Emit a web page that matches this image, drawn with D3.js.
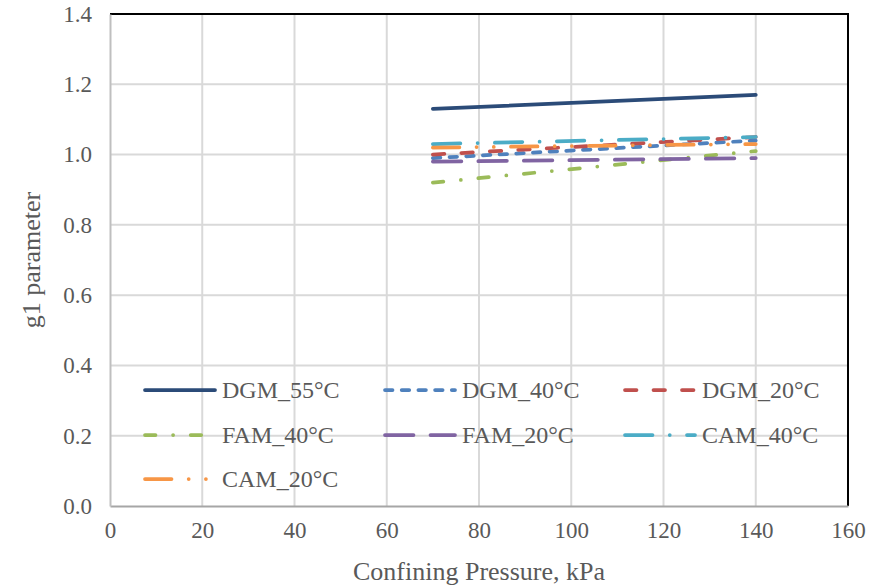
<!DOCTYPE html>
<html>
<head>
<meta charset="utf-8">
<script src="https://cdn.jsdelivr.net/npm/d3@7/dist/d3.min.js"></script>
<style>
  html, body { margin: 0; padding: 0; background: #fff; }
  svg { display: block; }
  svg text { font-family: "Liberation Serif", "Times New Roman", serif !important; fill: #595959; }
</style>
</head>
<body>
<svg id="chart" width="869" height="587"></svg>
<script>
// Confining pressures (kPa) at which g1 was evaluated
const pressures = [70, 140];

// g1 parameter per mixture / temperature
const seriesNames = ["DGM_55°C", "DGM_40°C", "DGM_20°C", "FAM_40°C", "FAM_20°C", "CAM_40°C", "CAM_20°C"];
const dgm55 = [1.13, 1.17];
const dgm40 = [0.99, 1.04];
const dgm20 = [1.00, 1.05];
const fam40 = [0.92, 1.01];
const fam20 = [0.98, 0.99];
const cam40 = [1.03, 1.05];
const cam20 = [1.02, 1.03];

const xTicks = [0, 20, 40, 60, 80, 100, 120, 140, 160];
const yTicks = [0.0, 0.2, 0.4, 0.6, 0.8, 1.0, 1.2, 1.4];

const colors = ["#2b4b78", "#4f81bd", "#c0504d", "#9bbb59", "#8064a2", "#4bacc6", "#f79646"];
const dashes = [
  null,
  "7.5,9.2",
  "11.5,17",
  "10.5,17.6,0,17.6",
  "28.5,17",
  "27.5,17.25,0,17.25",
  "26.5,17.2,0,17.2,0,17.2"
];

const series = [dgm55, dgm40, dgm20, fam40, fam20, cam40, cam20].map((vals, i) => ({
  name: seriesNames[i],
  color: colors[i],
  dash: dashes[i],
  points: vals.map((v, j) => ({ x: pressures[j], y: v }))
}));

const svg = d3.select("#chart");
const margin = { left: 110, right: 21, top: 14, bottom: 81 };
const W = 869, H = 587;

const x = d3.scaleLinear().domain([0, 160]).range([margin.left, W - margin.right]);
const y = d3.scaleLinear().domain([0, 1.4]).range([H - margin.bottom, margin.top]);

// Gridlines
svg.append("g")
  .selectAll("line")
  .data(yTicks.slice(1))
  .join("line")
  .attr("x1", x(0)).attr("x2", x(160))
  .attr("y1", d => y(d)).attr("y2", d => y(d))
  .attr("stroke", "#d9d9d9").attr("stroke-width", 2);

svg.append("g")
  .selectAll("line")
  .data(xTicks.slice(1))
  .join("line")
  .attr("x1", d => x(d)).attr("x2", d => x(d))
  .attr("y1", y(0)).attr("y2", y(1.4))
  .attr("stroke", "#d9d9d9").attr("stroke-width", 2);

// Frame: black top and right edges
svg.append("path")
  .attr("d", `M${x(0)},${y(1.4)} H${x(160)} V${y(0)}`)
  .attr("fill", "none").attr("stroke", "#000").attr("stroke-width", 2);

// Axes
const xAxis = svg.append("g")
  .attr("transform", `translate(0,${y(0)})`)
  .call(d3.axisBottom(x).tickValues(xTicks).tickSize(0).tickPadding(16).tickFormat(d3.format("d")))
  .attr("font-family", "Liberation Serif")
  .attr("font-size", 23);
xAxis.select(".domain").attr("stroke", "#a6a6a6").attr("stroke-width", 2);
xAxis.selectAll(".tick text").attr("fill", "#595959");

const yAxis = svg.append("g")
  .attr("transform", `translate(${x(0)},0)`)
  .call(d3.axisLeft(y).tickValues(yTicks).tickSize(0).tickPadding(18).tickFormat(d3.format(".1f")))
  .attr("font-family", "Liberation Serif")
  .attr("font-size", 23);
yAxis.select(".domain").attr("stroke", "#bfbfbf").attr("stroke-width", 2);
yAxis.selectAll(".tick text").attr("fill", "#595959");

// Axis titles
svg.append("text")
  .attr("x", (x(0) + x(160)) / 2)
  .attr("y", 580)
  .attr("text-anchor", "middle")
  .attr("font-size", 26)
  .text("Confining Pressure, kPa");

svg.append("text")
  .attr("transform", `translate(40,${(y(0) + y(1.4)) / 2}) rotate(-90)`)
  .attr("text-anchor", "middle")
  .attr("font-size", 26)
  .text("g1 parameter");

// Series lines
const line = d3.line().x(d => x(d.x)).y(d => y(d.y));
svg.append("g")
  .selectAll("path")
  .data(series)
  .join("path")
  .attr("d", d => line(d.points))
  .attr("fill", "none")
  .attr("stroke", d => d.color)
  .attr("stroke-width", 3.75)
  .attr("stroke-linecap", "round")
  .attr("stroke-dasharray", d => d.dash);

// Legend
const legendCols = [145, 385, 625];
const legendRows = [390, 435, 479];
const legend = svg.append("g")
  .selectAll("g")
  .data(series)
  .join("g")
  .attr("transform", (d, i) => `translate(${legendCols[i % 3]},${legendRows[Math.floor(i / 3)]})`);

legend.append("line")
  .attr("x1", 0).attr("x2", 70)
  .attr("y1", 0).attr("y2", 0)
  .attr("stroke", d => d.color)
  .attr("stroke-width", 3.75)
  .attr("stroke-linecap", "round")
  .attr("stroke-dasharray", d => d.dash);

legend.append("text")
  .attr("x", 77)
  .attr("y", 0)
  .attr("dy", "0.35em")
  .attr("font-size", 24)
  .text(d => d.name);
</script>
</body>
</html>
